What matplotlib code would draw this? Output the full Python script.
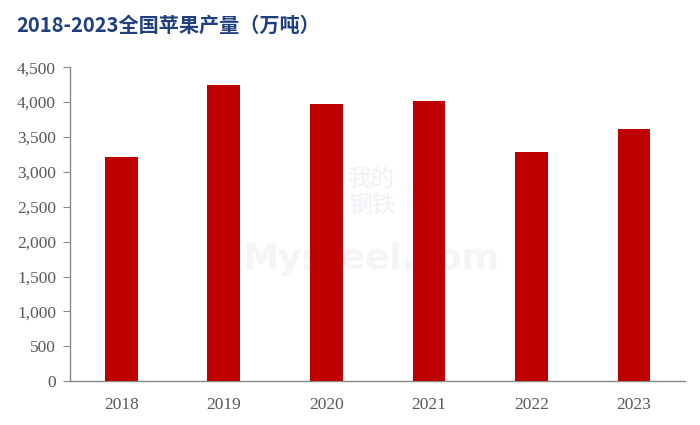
import matplotlib.pyplot as plt
from matplotlib.ticker import FuncFormatter

# data
years = ['2018', '2019', '2020', '2021', '2022', '2023']
output = [3210, 4242, 3968, 4012, 3281, 3610]

title = '2018-2023全国苹果产量（万吨）'

fig = plt.figure(figsize=(7, 4.25), dpi=100)
ax = fig.add_axes([0.1, 0.103, 0.879, 0.739])

ax.bar(years, output, width=0.32, color='#c00000', zorder=3)

ax.set_ylim(0, 4500)
ax.set_yticks(range(0, 4501, 500))
ax.yaxis.set_major_formatter(FuncFormatter(lambda v, p: f'{int(v):,}'))
ax.set_xlim(-0.5, len(years) - 0.5)

for s in ['top', 'right']:
    ax.spines[s].set_visible(False)
for s in ['left', 'bottom']:
    ax.spines[s].set_color('#898989')
    ax.spines[s].set_linewidth(1)

ax.tick_params(axis='y', length=5, color='#898989', labelsize=12.5,
               labelcolor='#595959', pad=5)
ax.tick_params(axis='x', length=0, labelsize=12.5, labelcolor='#595959', pad=11)
for lab in ax.get_xticklabels() + ax.get_yticklabels():
    lab.set_family('Liberation Serif')

# faint watermark, behind the bars
ax.text(0.49, 0.39, 'Mysteel.com', fontsize=26, color='#f5f5f5',
        ha='center', va='center', fontweight='bold', family='DejaVu Sans',
        transform=ax.transAxes, zorder=1)
ax.text(0.49, 0.60, '我的\n钢铁', fontsize=17, color='#f0f1f7',
        ha='center', va='center', family=['Noto Sans CJK SC'],
        transform=ax.transAxes, zorder=1, linespacing=1.1)

fig.text(0.023, 0.94, title, fontsize=14.5, fontweight='bold', color='#1f3f80',
         ha='left', va='center', family=['Noto Sans CJK SC', 'DejaVu Sans'])

fig.savefig('out.png', dpi=100)
